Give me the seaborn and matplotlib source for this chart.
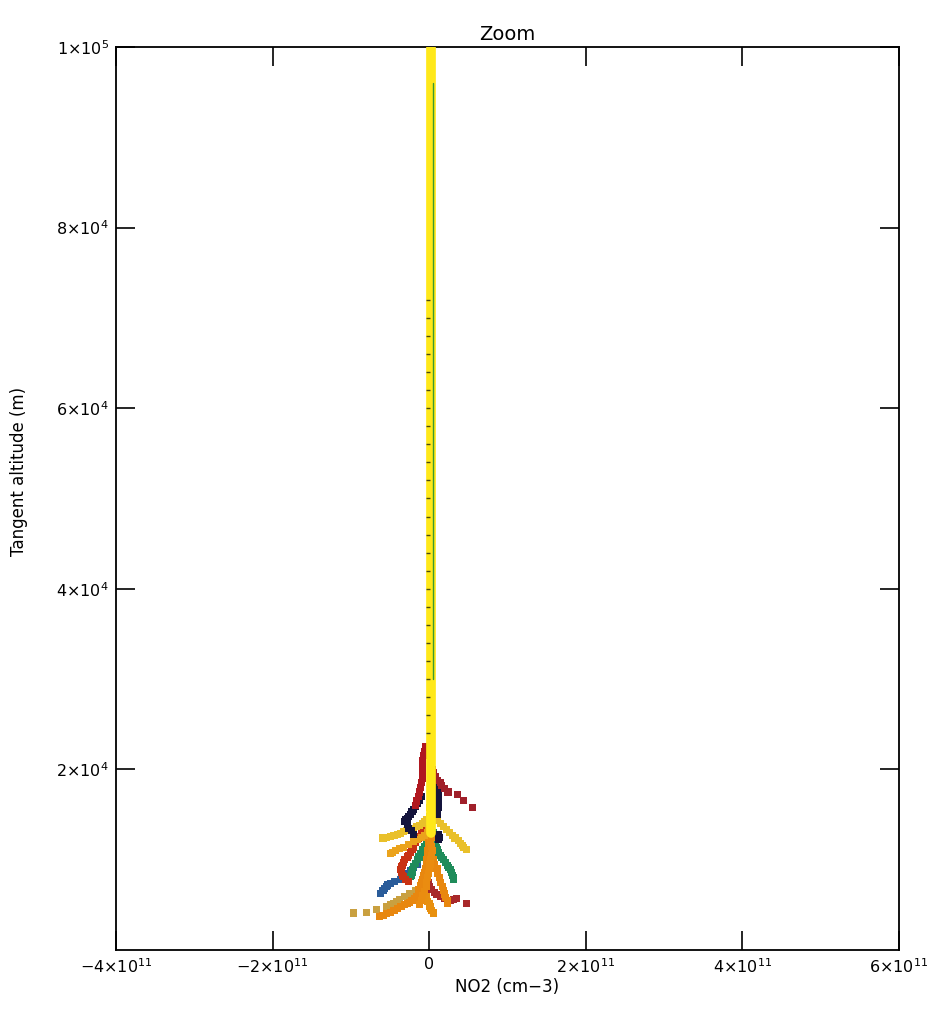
import matplotlib
matplotlib.use("Agg")
import matplotlib.pyplot as plt
import seaborn as sns
import pandas as pd
import numpy as np

# ---------------- data (NO2 in units of 1e11 cm-3, altitude in km) ----------------
yellow_alt = [100, 90, 80, 70, 60, 50, 40, 30, 25, 20, 18, 16, 14, 13]
yellow_no2 = [0.02, 0.02, 0.02, 0.02, 0.02, 0.02, 0.02, 0.02, 0.02, 0.02, 0.02, 0.02, 0.02, 0.02]

green_trace_alt = [96, 30]
green_trace_no2 = [0.045, 0.045]

dark_trace_alt = [72, 70, 68, 66, 64, 62, 60, 58, 56, 54, 52, 50, 48, 46, 44, 42, 40, 38, 36, 34, 32, 30, 28, 26, 24]
dark_trace_no2 = [-0.01, -0.01, -0.01, -0.01, -0.01, -0.01, -0.01, -0.01, -0.01, -0.01, -0.01, -0.01, -0.01,
                  -0.01, -0.01, -0.01, -0.01, -0.01, -0.01, -0.01, -0.01, -0.01, -0.01, -0.01, -0.01]

gold_left_alt = [14.8, 14.5, 14.2, 14.0, 13.8, 13.7, 13.5, 13.4, 13.2, 13.1, 12.9, 12.8, 12.7, 12.6, 12.5, 12.4]
gold_left_no2 = [0.0, -0.03, -0.06, -0.08, -0.12, -0.16, -0.20, -0.24, -0.29, -0.33, -0.37, -0.41, -0.45, -0.50, -0.55, -0.59]

gold_right_alt = [15.8, 15.5, 15.2, 15.0, 14.7, 14.4, 14.0, 13.7, 13.3, 13.0, 12.7, 12.4, 12.1, 11.8, 11.6, 11.4, 11.1]
gold_right_no2 = [0.0, 0.02, 0.04, 0.05, 0.08, 0.10, 0.14, 0.18, 0.22, 0.26, 0.30, 0.33, 0.37, 0.40, 0.42, 0.44, 0.48]

ogold_left_alt = [13.5, 13.2, 13.0, 12.7, 12.5, 12.2, 12.0, 11.7, 11.4, 11.2, 11.0, 10.8, 10.7]
ogold_left_no2 = [0.0, -0.01, -0.02, -0.06, -0.10, -0.15, -0.20, -0.26, -0.33, -0.38, -0.43, -0.47, -0.50]

dred_right_alt = [21.0, 20.5, 20.0, 19.6, 19.2, 18.8, 18.5, 18.2, 17.9, 17.5, 17.2, 16.6, 15.8]
dred_right_no2 = [0.02, 0.03, 0.04, 0.06, 0.08, 0.11, 0.14, 0.16, 0.19, 0.24, 0.36, 0.44, 0.55]

crimson_left_alt = [22.5, 22.0, 21.5, 21.0, 20.5, 20.0, 19.5, 19.0, 18.5, 18.0, 17.5, 17.0, 16.5, 16.0]
crimson_left_no2 = [-0.05, -0.06, -0.07, -0.08, -0.08, -0.08, -0.09, -0.09, -0.10, -0.11, -0.12, -0.14, -0.16, -0.18]

navy_left_alt = [17.0, 16.6, 16.2, 15.9, 15.6, 15.3, 15.0, 14.8, 14.6, 14.4, 14.2, 13.9, 13.5, 13.2, 12.8]
navy_left_no2 = [-0.10, -0.12, -0.15, -0.17, -0.20, -0.22, -0.24, -0.26, -0.28, -0.30, -0.31, -0.28, -0.26, -0.23, -0.20]

navy_right_alt = [18.0, 17.6, 17.2, 16.8, 16.5, 16.1, 15.8, 15.4, 15.0, 12.8, 12.5, 12.2]
navy_right_no2 = [0.10, 0.11, 0.12, 0.12, 0.12, 0.12, 0.12, 0.11, 0.10, 0.12, 0.13, 0.12]

red_left_alt = [14.0, 13.5, 13.0, 12.6, 12.3, 11.9, 11.4, 11.1, 10.8, 10.5, 10.3, 10.0, 9.7, 9.4, 9.2, 8.9, 8.6, 8.3, 8.1, 7.8, 7.6]
red_left_no2 = [-0.05, -0.08, -0.10, -0.12, -0.14, -0.17, -0.20, -0.22, -0.24, -0.26, -0.28, -0.31, -0.33, -0.34, -0.35, -0.36, -0.35, -0.34, -0.33, -0.30, -0.26]

green_right_alt = [13.0, 12.5, 12.0, 11.7, 11.4, 11.1, 10.8, 10.5, 10.2, 10.0, 9.7, 9.4, 9.1, 8.9, 8.6, 8.3, 8.0, 7.8]
green_right_no2 = [0.05, 0.06, 0.07, 0.08, 0.09, 0.10, 0.12, 0.14, 0.16, 0.18, 0.21, 0.23, 0.25, 0.27, 0.29, 0.30, 0.31, 0.31]

green_left_alt = [12.5, 12.0, 11.5, 11.1, 10.7, 10.3, 10.0, 9.6, 9.2, 8.9, 8.6, 8.3, 8.1]
green_left_no2 = [-0.02, -0.04, -0.06, -0.08, -0.11, -0.13, -0.15, -0.18, -0.20, -0.21, -0.22, -0.23, -0.24]

blue_alt = [9.5, 9.1, 8.8, 8.5, 8.2, 8.0, 7.8, 7.6, 7.4, 7.2, 7.0, 6.8, 6.6, 6.3]
blue_no2 = [-0.15, -0.20, -0.24, -0.27, -0.30, -0.33, -0.37, -0.44, -0.50, -0.53, -0.55, -0.57, -0.59, -0.62]

orange_main_alt = [13.0, 12.5, 12.0, 11.5, 11.0, 10.5, 10.0, 9.5, 9.0, 8.6, 8.2, 7.8, 7.5, 7.1, 6.7, 6.3, 5.9, 5.7,
                   5.5, 5.3, 5.2, 5.0, 4.8, 4.6, 4.4, 4.2, 4.0, 3.8, 3.7]
orange_main_no2 = [0.0, 0.0, -0.01, -0.01, -0.02, -0.02, -0.03, -0.04, -0.05, -0.06, -0.07, -0.08, -0.10, -0.11, -0.13,
                   -0.14, -0.16, -0.19, -0.22, -0.25, -0.28, -0.32, -0.36, -0.40, -0.45, -0.50, -0.54, -0.59, -0.63]

orange_band_alt = [12.5, 12.0, 11.5, 11.0, 10.5, 10.0, 9.5, 9.0, 8.5, 8.0, 7.5, 7.0, 6.5, 6.0, 5.5, 5.0]
orange_band_no2 = [0.03, 0.02, 0.03, 0.04, 0.03, 0.02, 0.01, 0.0, -0.01, -0.02, -0.03, -0.04, -0.06, -0.08, -0.10, -0.12]

tan_left_alt = [7.0, 6.6, 6.2, 5.9, 5.6, 5.4, 5.2, 5.0, 4.8, 4.5, 4.2, 4.1]
tan_left_no2 = [-0.10, -0.18, -0.25, -0.31, -0.38, -0.42, -0.45, -0.50, -0.54, -0.67, -0.80, -0.97]

orange_right_alt = [10.0, 9.5, 9.0, 8.5, 8.0, 7.5, 7.0, 6.6, 6.3, 5.9, 5.6, 5.4, 5.1, 4.8, 4.6, 4.4, 4.1]
orange_right_no2 = [-0.01, -0.01, -0.02, -0.03, -0.04, -0.04, -0.05, -0.05, -0.05, -0.04, -0.03, -0.02, 0.0, 0.01, 0.02, 0.03, 0.05]

orange_center_alt = [11.0, 10.5, 10.0, 9.5, 9.0, 8.5, 8.0, 7.5, 7.0, 6.6, 6.2, 5.8, 5.5, 5.2]
orange_center_no2 = [0.02, 0.03, 0.05, 0.07, 0.10, 0.11, 0.13, 0.15, 0.17, 0.18, 0.20, 0.21, 0.23, 0.23]

dred_low_alt = [9.0, 8.5, 8.0, 7.5, 7.0, 6.7, 6.4, 6.1, 5.9, 5.7, 5.5, 5.6, 5.7, 5.2]
dred_low_no2 = [-0.03, -0.03, -0.02, -0.01, 0.0, 0.03, 0.07, 0.10, 0.14, 0.20, 0.27, 0.31, 0.35, 0.48]

scatter_series = [
    ("tan_left", tan_left_alt, tan_left_no2, "#c9a040"),
    ("orange_right", orange_right_alt, orange_right_no2, "#e8900f"),
    ("dred_low", dred_low_alt, dred_low_no2, "#a8282a"),
    ("blue", blue_alt, blue_no2, "#2a5c9a"),
    ("green_left", green_left_alt, green_left_no2, "#1f8c5a"),
    ("green_right", green_right_alt, green_right_no2, "#1f8c5a"),
    ("red_left", red_left_alt, red_left_no2, "#c83214"),
    ("orange_center", orange_center_alt, orange_center_no2, "#e8870f"),
    ("orange_main", orange_main_alt, orange_main_no2, "#e8870f"),
    ("orange_band", orange_band_alt, orange_band_no2, "#ea8c10"),
    ("ogold_left", ogold_left_alt, ogold_left_no2, "#eba31c"),
    ("gold_left", gold_left_alt, gold_left_no2, "#e9c02a"),
    ("gold_right", gold_right_alt, gold_right_no2, "#e9c02a"),
    ("navy_left", navy_left_alt, navy_left_no2, "#14143c"),
    ("navy_right", navy_right_alt, navy_right_no2, "#14143c"),
    ("crimson_left", crimson_left_alt, crimson_left_no2, "#b01820"),
    ("dred_right", dred_right_alt, dred_right_no2, "#a0202a"),
]

xticks = [-4, -2, 0, 2, 4, 6]
xtick_labels = [r"$-4{\times}10^{11}$", r"$-2{\times}10^{11}$", "0",
                r"$2{\times}10^{11}$", r"$4{\times}10^{11}$", r"$6{\times}10^{11}$"]
yticks = [20000, 40000, 60000, 80000, 100000]
ytick_labels = [r"$2{\times}10^{4}$", r"$4{\times}10^{4}$", r"$6{\times}10^{4}$",
                r"$8{\times}10^{4}$", r"$1{\times}10^{5}$"]

# ---------------- plotting ----------------
sns.set_style("ticks")
plt.rcParams["font.family"] = ["DejaVu Sans"]
plt.rcParams["mathtext.default"] = "regular"
plt.rcParams["text.color"] = "black"
plt.rcParams["axes.labelcolor"] = "black"

fig = plt.figure(figsize=(9.33, 10.17), dpi=100)
ax = fig.add_axes([116 / 933, 1 - 950 / 1017, 783 / 933, 903 / 1017])

def frame(alt, no2, name):
    return pd.DataFrame({"no2": np.asarray(no2) * 1e11,
                         "alt": np.asarray(alt) * 1000.0,
                         "name": name})

for name, alt, no2, col in scatter_series:
    d = frame(alt, no2, name)
    sns.scatterplot(data=d, x="no2", y="alt", marker="s", s=26, color=col,
                    edgecolor="none", linewidth=0, ax=ax, legend=False, zorder=3)

ydf = frame(yellow_alt, yellow_no2, "yellow")
sns.lineplot(data=ydf, x="no2", y="alt", sort=False, estimator=None, color="#ffe81a",
             linewidth=7, ax=ax, legend=False, zorder=4)

gdf = frame(green_trace_alt, green_trace_no2, "green_trace")
sns.lineplot(data=gdf, x="no2", y="alt", sort=False, estimator=None, color="#3a9a30",
             linewidth=1.0, ax=ax, legend=False, zorder=5)

ddf = frame(dark_trace_alt, dark_trace_no2, "dark_trace")
sns.scatterplot(data=ddf, x="no2", y="alt", marker="_", s=10, color="#4a4a10",
                linewidth=1.0, ax=ax, legend=False, zorder=5)

ax.set_xlim(-4e11, 6e11)
ax.set_ylim(0, 1e5)
ax.set_xticks([v * 1e11 for v in xticks])
ax.set_xticklabels(xtick_labels)
ax.set_yticks(yticks)
ax.set_yticklabels(ytick_labels)
ax.minorticks_off()

ax.tick_params(axis="both", which="major", direction="in", length=14, width=1.2,
               top=True, right=True, labelsize=11.5, colors="black", pad=5)
for sp in ax.spines.values():
    sp.set_visible(True)
    sp.set_linewidth(1.3)
    sp.set_color("black")

ax.set_xlabel("NO2 (cm\u22123)", fontsize=12, labelpad=2)
ax.set_ylabel("Tangent altitude (m)", fontsize=12)
ax.yaxis.set_label_coords(-0.112, 0.53)
ax.set_title("Zoom", fontsize=14, pad=5)
ax.grid(False)

fig.savefig("out.png", dpi=100, facecolor="white")
